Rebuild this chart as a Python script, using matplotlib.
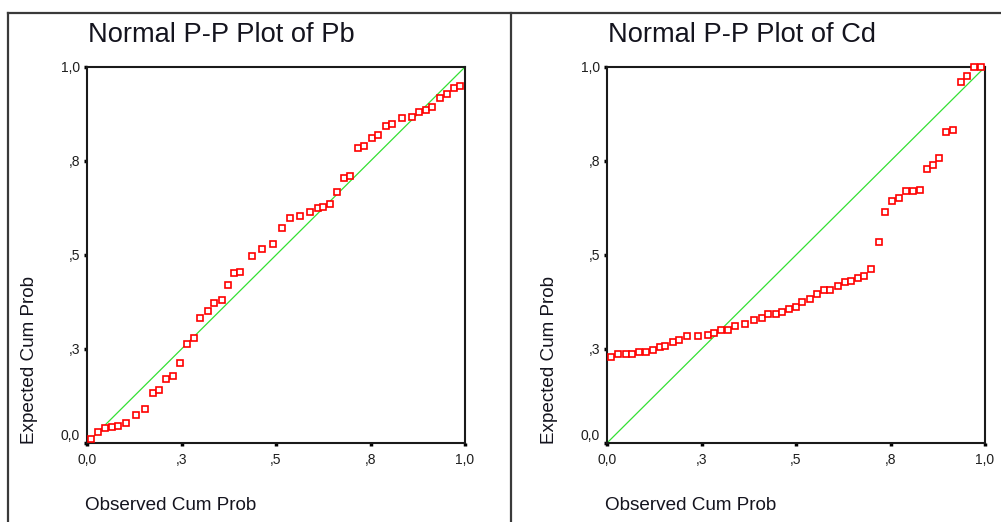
import matplotlib
matplotlib.use("Agg")
import matplotlib.pyplot as plt
from matplotlib.lines import Line2D

plt.rcParams['font.family'] = ['Liberation Sans', 'DejaVu Sans']

# Pb: observed vs expected cumulative probabilities
pb_observed = [0.011, 0.028, 0.048, 0.065, 0.083, 0.103, 0.130, 0.153, 0.174, 0.190,
               0.209, 0.227, 0.246, 0.265, 0.282, 0.300, 0.319, 0.336, 0.357, 0.374,
               0.389, 0.406, 0.437, 0.463, 0.491, 0.517, 0.538, 0.563, 0.590, 0.611,
               0.625, 0.643, 0.662, 0.681, 0.697, 0.716, 0.734, 0.754, 0.771, 0.791,
               0.808, 0.834, 0.860, 0.878, 0.897, 0.913, 0.933, 0.952, 0.971, 0.987]
pb_expected = [0.011, 0.028, 0.039, 0.043, 0.046, 0.054, 0.074, 0.091, 0.132, 0.140,
               0.169, 0.179, 0.214, 0.264, 0.278, 0.332, 0.351, 0.372, 0.380, 0.420,
               0.453, 0.456, 0.497, 0.517, 0.529, 0.571, 0.598, 0.604, 0.614, 0.625,
               0.627, 0.636, 0.667, 0.705, 0.711, 0.785, 0.790, 0.811, 0.818, 0.842,
               0.848, 0.864, 0.867, 0.880, 0.886, 0.894, 0.918, 0.927, 0.945, 0.950]

# Cd: observed vs expected cumulative probabilities
cd_observed = [0.011, 0.030, 0.049, 0.067, 0.085, 0.102, 0.121, 0.141, 0.153, 0.174,
               0.191, 0.211, 0.240, 0.266, 0.284, 0.302, 0.320, 0.339, 0.365, 0.390,
               0.410, 0.427, 0.446, 0.463, 0.481, 0.501, 0.517, 0.537, 0.555, 0.574,
               0.591, 0.612, 0.629, 0.646, 0.663, 0.680, 0.698, 0.719, 0.735, 0.755,
               0.772, 0.791, 0.809, 0.828, 0.847, 0.862, 0.879, 0.898, 0.916, 0.936,
               0.952, 0.972, 0.989]
cd_expected = [0.228, 0.236, 0.236, 0.236, 0.242, 0.242, 0.248, 0.255, 0.259, 0.269,
               0.275, 0.284, 0.284, 0.286, 0.293, 0.300, 0.301, 0.310, 0.316, 0.327,
               0.332, 0.342, 0.343, 0.348, 0.356, 0.362, 0.374, 0.382, 0.396, 0.407,
               0.407, 0.418, 0.428, 0.431, 0.438, 0.444, 0.464, 0.535, 0.614, 0.643,
               0.652, 0.669, 0.669, 0.673, 0.728, 0.739, 0.758, 0.827, 0.832, 0.959,
               0.977, 1.000, 1.000]

tick_values = [0.0, 0.25, 0.5, 0.75, 1.0]
tick_labels = ['0,0', ',3', ',5', ',8', '1,0']

panels = [
    ("Normal P-P Plot of Pb", pb_observed, pb_expected),
    ("Normal P-P Plot of Cd", cd_observed, cd_expected),
]

W, H = 1001, 522
fig = plt.figure(figsize=(W / 100, H / 100), dpi=100)
fig.patch.set_facecolor('white')

# outer frame lines of the two panels
frame_kw = dict(color='#3a3a3a', lw=1.6, transform=fig.transFigure)
fig.add_artist(Line2D([8 / W, 1.0], [1 - 13 / H, 1 - 13 / H], **frame_kw))
fig.add_artist(Line2D([8 / W, 8 / W], [0, 1 - 13 / H], **frame_kw))
fig.add_artist(Line2D([511 / W, 511 / W], [0, 1 - 13 / H], **frame_kw))

text_color = '#14141e'
ax_left = [87, 607]
for (title, obs, exp), x0 in zip(panels, ax_left):
    ax = fig.add_axes([x0 / W, 1 - 443 / H, 378 / W, 376 / H])
    ax.set_xlim(0, 1)
    ax.set_ylim(0, 1)
    ax.plot([0, 1], [0, 1], color='#33e033', lw=0.9, zorder=2)
    ax.plot(obs, exp, linestyle='none', marker='s', markersize=5,
            markerfacecolor='white', markeredgecolor='#ff0000',
            markeredgewidth=1.2, clip_on=False, zorder=3)
    for s in ax.spines.values():
        s.set_color('#1a1a1a')
        s.set_linewidth(1.5)
    ax.set_xticks(tick_values)
    ax.set_xticklabels(tick_labels)
    ax.set_yticks(tick_values)
    ax.set_yticklabels(tick_labels)
    ax.tick_params(direction='out', length=2, width=2.5, color='black',
                   labelsize=10, labelcolor='#1e1e1e', pad=3)
    ax.tick_params(axis='x', pad=5)
    ax.get_yticklabels()[0].set_va('bottom')

    fig.text((x0 + 1) / W, 1 - 42 / H, title, fontsize=19.6,
             color=text_color, va='baseline', ha='left')
    fig.text((x0 - 2) / W, 1 - 506 / H, "Observed Cum Prob", fontsize=13.6,
             color=text_color, va='center', ha='left')
    fig.text((x0 - 57) / W, 1 - 444 / H, "Expected Cum Prob", fontsize=13.6,
             color=text_color, va='bottom', ha='center', rotation=90,
             rotation_mode='default')

fig.savefig("out.png", dpi=100)
